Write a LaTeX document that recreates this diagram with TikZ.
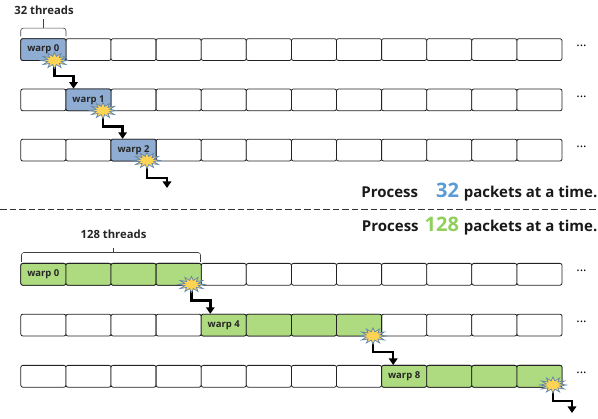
\documentclass[tikz,border=0pt]{standalone}
\usepackage{fontspec}
\setmainfont{Open Sans}
\usetikzlibrary{shapes.geometric,arrows.meta,calc}
\definecolor{bluecell}{HTML}{8FADD3}
\definecolor{greencell}{HTML}{AEDB7F}
\definecolor{starfill}{HTML}{FFD455}
\definecolor{starline}{HTML}{5F86AE}
\definecolor{bignumblue}{HTML}{5B9BD5}
\definecolor{bignumgreen}{HTML}{8FD05A}
\definecolor{darkline}{HTML}{222222}
\tikzset{
  cellbox/.style={draw=darkline,line width=0.8pt,rounded corners=2pt,minimum width=45.1pt,minimum height=21.8pt,inner sep=0pt,anchor=north west,fill=white,font=\fontsize{9.5}{10}\selectfont\bfseries,text=black!85},
  burst/.style={star,star points=12,star point ratio=1.9,draw=starline,fill=starfill,line width=0.7pt,minimum size=17pt,inner sep=0pt,xscale=1.55,yscale=0.95},
  jump/.style={line width=2.5pt,black,-{Triangle[width=8.5pt,length=6.5pt]}},
  bracket/.style={draw=black!75,line width=0.6pt,rounded corners=2.5pt},
  lbl/.style={font=\fontsize{11.3}{13}\selectfont\bfseries,text=black!85,inner sep=0pt},
  headline/.style={font=\fontsize{15}{18}\selectfont\bfseries,text=black!90,inner sep=0pt,anchor=base east},
  dots/.style={font=\fontsize{13}{14}\selectfont,inner sep=0pt}
}
\begin{document}
\begin{tikzpicture}[x=1pt,y=-1pt]
\useasboundingbox (0,0) rectangle (598,419);
\foreach \r/\y in {1/38.3,2/88.6,3/138.8,4/263,5/313.8,6/365}{
  \foreach \c in {0,...,11}{
    \node[cellbox] (r\r c\c) at ({20.4+45.1*\c},\y) {};
  }
  \node[dots] (dots\r) at (581.5,\y+8) {...};
}
% coloured cells
\node[cellbox,fill=bluecell] (r1c0) at (r1c0.north west) {warp 0};
\node[cellbox,fill=bluecell] (r2c1) at (r2c1.north west) {warp 1};
\node[cellbox,fill=bluecell] (r3c2) at (r3c2.north west) {warp 2};
\node[cellbox,fill=greencell] (r4c0) at (r4c0.north west) {warp 0};
\foreach \c in {1,2,3}{\node[cellbox,fill=greencell] (r4c\c) at (r4c\c.north west) {};}
\node[cellbox,fill=greencell] (r5c4) at (r5c4.north west) {warp 4};
\foreach \c in {5,6,7}{\node[cellbox,fill=greencell] (r5c\c) at (r5c\c.north west) {};}
\node[cellbox,fill=greencell] (r6c8) at (r6c8.north west) {warp 8};
\foreach \c in {9,10,11}{\node[cellbox,fill=greencell] (r6c\c) at (r6c\c.north west) {};}
% free ends
\coordinate (end3) at (167,188);
\coordinate (end6) at (572,413);
% connectors
\coordinate (b1) at (54.5,60.5);
\coordinate (b2) at (103,110.5);
\coordinate (b3) at (147,160.5);
\coordinate (b4) at (191.5,284.5);
\coordinate (b5) at (373,336);
\coordinate (b6) at (553,385);
\draw[jump] (b1) |- ([xshift=8pt,yshift=12.5pt]r2c1.north west) -- ([xshift=8pt]r2c1.north west);
\draw[jump] (b2) |- ([xshift=12pt,yshift=12.5pt]r3c2.north west) -- ([xshift=12pt]r3c2.north west);
\draw[jump] (b3) |- ($(end3)+(0,-10)$) -- (end3);
\draw[jump] (b4) |- ([xshift=9.5pt,yshift=13.5pt]r5c4.north west) -- ([xshift=9.5pt]r5c4.north west);
\draw[jump] (b5) |- ([xshift=12pt,yshift=13pt]r6c8.north west) -- ([xshift=12pt]r6c8.north west);
\draw[jump] (b6) |- ($(end6)+(0,-12)$) -- (end6);
% bursts on top
\node[burst] (s1) at (b1) {};
\node[burst] (s2) at (b2) {};
\node[burst] (s3) at (b3) {};
\node[burst] (s4) at (b4) {};
\node[burst] (s5) at (b5) {};
\node[burst] (s6) at (b6) {};
% brackets
\draw[bracket] (20.7,36.5) -- (20.7,28.2) -- (66,28.2) -- (66,36.5);
\coordinate (t1a) at (43.5,28.2);
\coordinate (t1b) at (43.5,19);
\draw[draw=black!75,line width=0.6pt] (t1a) -- (t1b);
\draw[bracket] (21.5,262) -- (21.5,252.5) -- (200.5,252.5) -- (200.5,262);
\coordinate (t2a) at (113,252.5);
\coordinate (t2b) at (113,248);
\draw[draw=black!75,line width=0.6pt] (t2a) -- (t2b);
\node[lbl] (l32) at (44,10.5) {32 threads};
\node[lbl] (l128) at (113.5,234) {128 threads};
% dashed divider
\coordinate (da) at (0,209.3);
\coordinate (db) at (598,209.3);
\draw[black!80,line width=0.6pt,dash pattern=on 6.5pt off 3pt] (da) -- (db);
% headlines
\node[headline] (h1) at (597.5,198) {Process\hspace{18pt}{\fontsize{20}{24}\selectfont\color{bignumblue}32}\hspace{5pt}packets at a time.};
\node[headline] (h2) at (597.5,232) {Process\hspace{6pt}{\fontsize{20}{24}\selectfont\color{bignumgreen}128}\hspace{5pt}packets at a time.};
\end{tikzpicture}
\end{document}
